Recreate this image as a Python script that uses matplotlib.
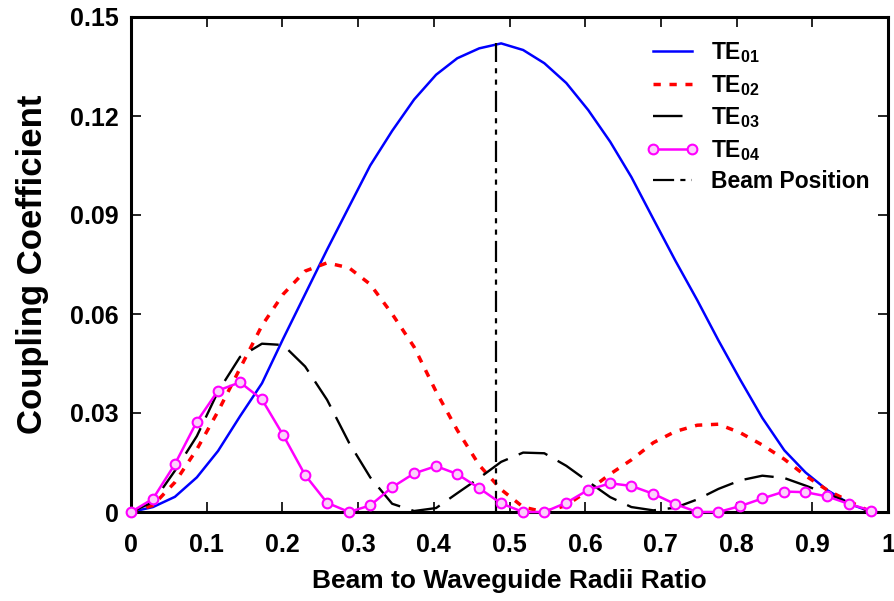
import matplotlib
matplotlib.use("Agg")
import matplotlib.pyplot as plt

plt.rcParams['font.family'] = ['Liberation Sans', 'DejaVu Sans']
plt.rcParams['mathtext.fontset'] = 'custom'
plt.rcParams['mathtext.rm'] = 'Liberation Sans:bold'
plt.rcParams['mathtext.bf'] = 'Liberation Sans:bold'
plt.rcParams['mathtext.it'] = 'Liberation Sans:bold'

# ---- data ----
x = [0.0, 0.029, 0.058, 0.087, 0.115, 0.144, 0.173, 0.201, 0.230, 0.259,
     0.288, 0.316, 0.345, 0.374, 0.403, 0.431, 0.460, 0.489, 0.518, 0.546,
     0.575, 0.604, 0.633, 0.661, 0.690, 0.719, 0.748, 0.776, 0.805, 0.834,
     0.863, 0.891, 0.920, 0.949, 0.978]

te01 = [0.0, 0.0015, 0.0046, 0.0105, 0.0185, 0.029, 0.039, 0.0525, 0.066, 0.0795,
        0.0925, 0.105, 0.1155, 0.125, 0.1325, 0.1375, 0.1405, 0.142, 0.140, 0.136,
        0.130, 0.1218, 0.1122, 0.1015, 0.0888, 0.0762, 0.0642, 0.052, 0.040, 0.0285,
        0.0187, 0.012, 0.0066, 0.0025, 0.0]

te02 = [0.0, 0.002, 0.009, 0.019, 0.0305, 0.0435, 0.0565, 0.066, 0.073, 0.0755,
        0.074, 0.069, 0.060, 0.050, 0.0365, 0.0248, 0.0142, 0.0068, 0.0015, 0.0,
        0.002, 0.0065, 0.0115, 0.0158, 0.021, 0.0244, 0.0263, 0.0266, 0.024, 0.0203,
        0.016, 0.011, 0.0066, 0.0032, 0.0]

te03 = [0.0, 0.003, 0.0125, 0.023, 0.0365, 0.047, 0.051, 0.0506, 0.0441, 0.034,
        0.021, 0.0105, 0.0025, 0.0003, 0.0012, 0.0057, 0.0103, 0.0152, 0.018, 0.0178,
        0.014, 0.0092, 0.0045, 0.0015, 0.0005, 0.0013, 0.0038, 0.007, 0.0096, 0.011,
        0.0103, 0.008, 0.0055, 0.0028, 0.0]

te04 = [0.0, 0.004, 0.0145, 0.0274, 0.0368, 0.0393, 0.0341, 0.0233, 0.0112, 0.0028,
        0.0, 0.002, 0.0075, 0.0117, 0.0139, 0.0115, 0.0072, 0.0026, 0.0, 0.0,
        0.0028, 0.0067, 0.0087, 0.0079, 0.0055, 0.0024, 0.0, 0.0, 0.0018, 0.0041,
        0.0062, 0.006, 0.0047, 0.0024, 0.0004]

beam_x = 0.482
beam_top = 0.142

xticks = [0, 0.1, 0.2, 0.3, 0.4, 0.5, 0.6, 0.7, 0.8, 0.9, 1.0]
xticklabels = ['0', '0.1', '0.2', '0.3', '0.4', '0.5', '0.6', '0.7', '0.8', '0.9', '1']
yticks = [0, 0.03, 0.06, 0.09, 0.12, 0.15]
yticklabels = ['0', '0.03', '0.06', '0.09', '0.12', '0.15']

labels = [r'$\mathbf{TE}_{\mathbf{01}}$', r'$\mathbf{TE}_{\mathbf{02}}$',
          r'$\mathbf{TE}_{\mathbf{03}}$', r'$\mathbf{TE}_{\mathbf{04}}$', 'Beam Position']

# ---- figure ----
fig = plt.figure(figsize=(8.95, 6.01), dpi=100)
ax = fig.add_axes([131/895, 1 - 512/601, 757/895, 495/601])

ax.plot(x, te01, color='#0000ff', lw=1.8, label=labels[0])
ax.plot(x, te02, color='#ff0000', lw=2.5, dashes=(2.1, 2.5), label=labels[1])
ax.plot(x, te03, color='black', lw=1.7, dashes=(12.5, 5), label=labels[2])
ax.plot(x, te04, color='#ff00ff', lw=1.8, marker='o', markersize=7,
        markerfacecolor='#fbd0fb', markeredgecolor='#ff00ff', markeredgewidth=1.5,
        clip_on=False, label=labels[3], zorder=3)
ax.plot([beam_x, beam_x], [0, beam_top], color='black', lw=1.6,
        dashes=(9.5, 2.8, 2.3, 2.8, 2.3, 2.8), label=labels[4])

ax.set_xlim(0, 1)
ax.set_ylim(0, 0.15)
ax.set_xticks(xticks)
ax.set_xticklabels(xticklabels)
ax.set_yticks(yticks)
ax.set_yticklabels(yticklabels)

for sp in ax.spines.values():
    sp.set_linewidth(2.2)

ax.tick_params(axis='both', direction='in', length=7, width=1.2,
               top=True, right=True, labelsize=18)
ax.tick_params(axis='x', pad=15)
ax.tick_params(axis='y', pad=9)
for t in ax.get_xticklabels() + ax.get_yticklabels():
    t.set_fontweight('bold')

ax.set_xlabel('Beam to Waveguide Radii Ratio', fontsize=19, fontweight='bold', labelpad=9)
ax.set_ylabel('Coupling Coefficient', fontsize=25, fontweight='bold', labelpad=15)

leg = ax.legend(loc='upper left', bbox_to_anchor=(0.681, 0.953), frameon=False,
                fontsize=16.5, handlelength=2.3, handletextpad=0.5, labelspacing=0.33,
                borderpad=0, borderaxespad=0, numpoints=2)
for t in leg.get_texts():
    t.set_fontweight('bold')

fig.savefig('out.png', dpi=100)
